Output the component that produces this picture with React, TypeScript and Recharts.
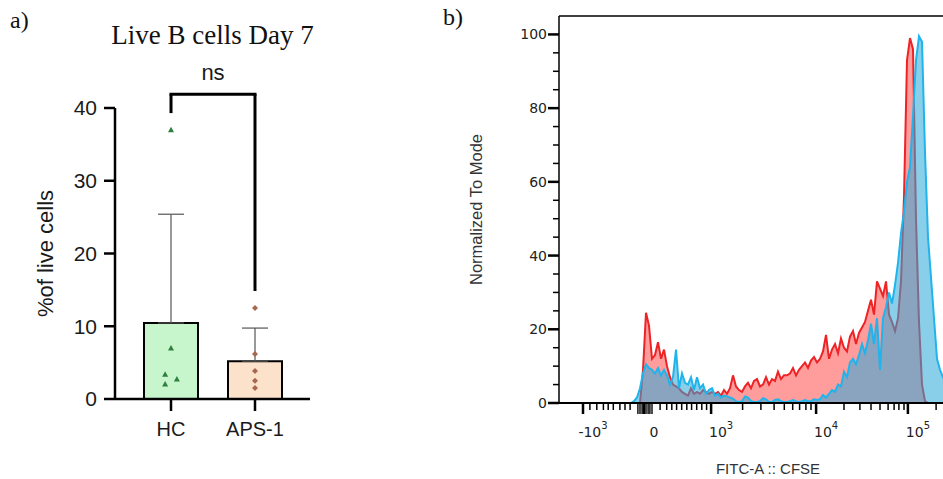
import React from 'react';
import {
  ComposedChart,
  Bar,
  Cell,
  ErrorBar,
  Scatter,
  Area,
  XAxis,
  YAxis,
  ReferenceLine,
} from 'recharts';

const sans = '"Liberation Sans", Arial, Helvetica, sans-serif';
const serif = '"Liberation Serif", "Times New Roman", serif';
const flowFont = '"DejaVu Sans", sans-serif';

// ---- panel a: Live B cells Day 7 (mean + SD, individual donors) ----
const groups = ['HC', 'APS-1'];
const groupMeans = [10.45, 5.2];
const groupSd = [14.95, 4.55];
const barFills = ['#c7f5cc', '#fde2cb'];

const hcValues = [37, 7, 3.4, 2.75, 2.05];
const hcPos = [1, 1, 0.93, 1.07, 0.93];
const apsValues = [12.5, 6.2, 3.85, 2.5, 1.5];
const apsPos = [2, 2, 2, 2, 2];

const yTicksA = [0, 10, 20, 30, 40];

// significance bracket (in % units)
const bracketTop = 41.9;
const bracketLeftEnd = 39.3;
const bracketRightEnd = 14.85;

// ---- panel b: CFSE histogram, normalized to mode ----
const firstChannel = 24;
const redCounts = [
  null, null, null, 0, 9, 24.5, 21, 12, 13, 16.5,
  12, 14.5, 10, 7, 5, 4.5, 4, 3, 2.5, 2,
  4, 2.5, 3, 2.5, 3.5, 3, 2.5, 3, 2.5, 3,
  2, 3.5, 2.5, 4, 7.5, 4.5, 3.5, 3, 4.5, 5.5,
  4, 6, 6.5, 4.5, 5, 7, 5, 6.5, 6, 8.5,
  6.5, 7.5, 7.5, 8, 9.5, 7.5, 9, 10, 11, 9.5,
  11.5, 12.5, 11, 12, 14, 18.5, 12, 14.5, 16, 13.5,
  17.5, 15, 14, 18, 19.5, 16, 19, 20.5, 22, 25,
  28, 24, 33, 31, 29, 33, 24, 22, 19.5, 23,
  33, 56, 93, 99, 96, 50, 22, 5, 0.5, 0,
  null, null, null, null, null, null, null, null, null, null,
];
const blueCounts = [
  0, 0.5, 1.5, 4, 8, 10.5, 9.5, 9, 8, 9.5,
  7.5, 9, 7.5, 5, 7, 14.5, 4, 8, 5.5, 5,
  7, 3.5, 7, 4, 5, 2.5, 3.5, 4, 2, 2.5,
  1.5, 2, 1.8, 1.5, 1.2, 0.5, 0.3, 0.5, 1.8, 1.5,
  0.5, 0.3, 0.3, 0.5, 1.3, 1, 0.3, 0.3, 0.8, 1,
  0.5, 0.3, 0.3, 0.5, 0.8, 0.5, 0.3, 0.5, 0.8, 0.5,
  0.5, 1, 0.8, 1, 2.2, 1.5, 2.5, 3.5, 3, 5,
  4.5, 8.5, 7, 11, 12, 10.5, 13, 16, 13.5, 17,
  21.5, 16, 23, 9, 23, 26, 30, 27, 32, 38,
  46, 52, 60, 64, 78, 93, 99.5, 98, 68, 45,
  34, 23, 12, 9, 7, 5, 3, 1.5, 0.5, 0,
];

// biexponential axis, in display channels
const xMajorTicks = [8.0, 28.3, 50.7, 85.7, 116.3];
const xMajorLabels = [['-10', '3'], ['0', ''], ['10', '3'], ['10', '4'], ['10', '5']];
const xDenseTicks = [26.3, 27.0, 27.7, 29.0, 29.7, 30.3, 31.0];
const xMinorTicks = [
  10.3, 12.6, 14.8, 16.4, 18.1, 20.3, 22, 23.7,
  33.7, 35.9, 37.6, 39.2, 40.9, 42.6, 44.2, 45.9, 47.6, 49.2,
  61.2, 67.3, 71.7, 75.1, 77.9, 80.2, 82.3, 84.0,
  95.0, 100.3, 104.0, 107.0, 109.7, 111.7, 113.3, 115.0, 125.7,
];
const yTicksB = [0, 5, 10, 15, 20, 25, 30, 35, 40, 45, 50, 55, 60, 65, 70, 75, 80, 85, 90, 95, 100];

const barData = groups.map((g, i) => ({ name: g, mean: groupMeans[i], err: [0, groupSd[i]] }));
const hcPoints = hcValues.map((v, i) => ({ pos: hcPos[i], value: v }));
const apsPoints = apsValues.map((v, i) => ({ pos: apsPos[i], value: v }));
const histData = redCounts.map((r, i) => ({ ch: firstChannel + i, red: r, blue: blueCounts[i] }));
const xTicksAll = [...xMajorTicks, ...xDenseTicks, ...xMinorTicks].sort((a, b) => a - b);

const Triangle = (p: any) => (
  <polygon
    points={`${p.cx},${p.cy - 3} ${p.cx + 3},${p.cy + 2.5} ${p.cx - 3},${p.cy + 2.5}`}
    fill="#2f7f3d"
  />
);

const Diamond = (p: any) => (
  <polygon
    points={`${p.cx},${p.cy - 3} ${p.cx + 3},${p.cy} ${p.cx},${p.cy + 3} ${p.cx - 3},${p.cy}`}
    fill="#a8684f"
  />
);

const XTickB = (props: any) => {
  const { x, y, payload } = props;
  const v = payload.value;
  const mi = xMajorTicks.indexOf(v);
  const dense = xDenseTicks.includes(v);
  const len = mi >= 0 || dense ? 11 : 7;
  const sw = mi >= 0 ? 2.5 : dense ? 1.4 : 1.5;
  return (
    <g>
      <line x1={x} x2={x} y1={y} y2={y + len} stroke="#000" strokeWidth={sw} />
      {mi >= 0 && (
        <text x={x + 10} y={y + 34} textAnchor="middle" fontSize={14} fill="#222" fontFamily={flowFont}>
          {xMajorLabels[mi][0]}
          {xMajorLabels[mi][1] && (
            <tspan dy={-8} fontSize={10}>
              {xMajorLabels[mi][1]}
            </tspan>
          )}
        </text>
      )}
    </g>
  );
};

const YTickB = (props: any) => {
  const { x, y, payload } = props;
  const major = payload.value % 20 === 0;
  return (
    <g>
      <line x1={x - (major ? 11 : 6)} x2={x} y1={y} y2={y} stroke="#000" strokeWidth={major ? 2.5 : 1.5} />
      {major && (
        <text x={x - 12} y={y} dy="0.36em" textAnchor="end" fontSize={14} fill="#222" fontFamily={flowFont}>
          {payload.value}
        </text>
      )}
    </g>
  );
};

function BarPanel() {
  return (
    <ComposedChart width={330} height={479} data={barData} margin={{ top: 108, right: 20, bottom: 30, left: 0 }}>
      <XAxis
        xAxisId="cat"
        type="category"
        dataKey="name"
        padding={{ left: 14, right: 13 }}
        height={50}
        tickSize={12}
        tickMargin={11}
        axisLine={{ stroke: '#000', strokeWidth: 2.5 }}
        tickLine={{ stroke: '#000', strokeWidth: 2.5 }}
        tick={{ fontSize: 20, fill: '#1a1a1a', fontFamily: sans }}
      />
      <XAxis xAxisId="num" type="number" dataKey="pos" domain={[0.333, 2.655]} allowDataOverflow hide />
      <YAxis
        type="number"
        domain={[0, 40]}
        ticks={yTicksA}
        interval={0}
        width={115}
        tickSize={11}
        tickMargin={7}
        axisLine={{ stroke: '#000', strokeWidth: 2.5 }}
        tickLine={{ stroke: '#000', strokeWidth: 2.5 }}
        tick={{ fontSize: 21, fill: '#1a1a1a', fontFamily: sans }}
        label={{
          value: '%of live cells',
          angle: -90,
          position: 'insideLeft',
          offset: 45,
          style: { textAnchor: 'middle' },
          fontSize: 22,
          fill: '#1a1a1a',
          fontFamily: sans,
        }}
      />
      <Bar xAxisId="cat" dataKey="mean" barSize={54} stroke="#000" strokeWidth={2} isAnimationActive={false}>
        {barData.map((d, i) => (
          <Cell key={d.name} fill={barFills[i]} />
        ))}
        <ErrorBar dataKey="err" width={13} stroke="#555" strokeWidth={1.2} direction="y" />
      </Bar>
      <Scatter xAxisId="num" data={hcPoints} dataKey="value" shape={Triangle} isAnimationActive={false} />
      <Scatter xAxisId="num" data={apsPoints} dataKey="value" shape={Diamond} isAnimationActive={false} />
      <ReferenceLine
        xAxisId="num"
        segment={[{ x: 1, y: bracketTop }, { x: 2, y: bracketTop }]}
        ifOverflow="visible"
        stroke="#000"
        strokeWidth={3}
        strokeLinecap="square"
        label={{ value: 'ns', position: 'top', offset: 14, fontSize: 22, fill: '#1a1a1a', fontFamily: sans }}
      />
      <ReferenceLine
        xAxisId="num"
        segment={[{ x: 1, y: bracketTop }, { x: 1, y: bracketLeftEnd }]}
        ifOverflow="visible"
        stroke="#000"
        strokeWidth={3}
      />
      <ReferenceLine
        xAxisId="num"
        segment={[{ x: 2, y: bracketTop }, { x: 2, y: bracketRightEnd }]}
        ifOverflow="visible"
        stroke="#000"
        strokeWidth={3}
      />
    </ComposedChart>
  );
}

function HistPanel() {
  return (
    <ComposedChart width={600} height={479} data={histData} margin={{ top: 16, right: 21, bottom: 6, left: 0 }}>
      <XAxis
        type="number"
        dataKey="ch"
        domain={[0, 150]}
        allowDataOverflow
        ticks={xTicksAll}
        interval={0}
        tick={<XTickB />}
        tickLine={false}
        tickSize={0}
        tickMargin={0}
        height={70}
        axisLine={{ stroke: '#000', strokeWidth: 2 }}
        label={{
          value: 'FITC-A :: CFSE',
          position: 'insideBottom',
          offset: -1,
          dx: -16,
          fontSize: 15,
          fill: '#333',
          fontFamily: sans,
        }}
      />
      <YAxis
        type="number"
        domain={[0, 105]}
        ticks={yTicksB}
        interval={0}
        tick={<YTickB />}
        tickLine={false}
        tickSize={0}
        tickMargin={0}
        width={129}
        axisLine={{ stroke: '#000', strokeWidth: 1.5 }}
        label={{
          value: 'Normalized To Mode',
          angle: -90,
          position: 'insideLeft',
          offset: 46,
          style: { textAnchor: 'middle' },
          fontSize: 16.5,
          fill: '#333',
          fontFamily: sans,
        }}
      />
      <ReferenceLine y={105} stroke="#000" strokeWidth={1.5} />
      <Area
        type="linear"
        dataKey="red"
        stroke="#ee2326"
        strokeWidth={2}
        fill="#ff3b3b"
        fillOpacity={0.5}
        dot={false}
        activeDot={false}
        isAnimationActive={false}
      />
      <Area
        type="linear"
        dataKey="blue"
        stroke="#1fb4ec"
        strokeWidth={2}
        fill="#2aa7d8"
        fillOpacity={0.55}
        dot={false}
        activeDot={false}
        isAnimationActive={false}
      />
    </ComposedChart>
  );
}

export default function App() {
  return (
    <div style={{ position: 'absolute', left: 0, top: 0, width: 943, height: 479, overflow: 'hidden', background: '#fff' }}>
      <div style={{ position: 'absolute', left: 0, top: 0 }}>
        <BarPanel />
      </div>
      <div style={{ position: 'absolute', left: 430, top: 0 }}>
        <HistPanel />
      </div>
      <svg width={943} height={479} style={{ position: 'absolute', left: 0, top: 0, pointerEvents: 'none' }}>
        <text x={10} y={28} fontSize={24} fontFamily={serif} fill="#111">
          a)
        </text>
        <text x={212.5} y={44} textAnchor="middle" fontSize={27} fontFamily={serif} fill="#111">
          Live B cells Day 7
        </text>
        <text x={443} y={25} fontSize={24} fontFamily={serif} fill="#111">
          b)
        </text>
      </svg>
    </div>
  );
}
